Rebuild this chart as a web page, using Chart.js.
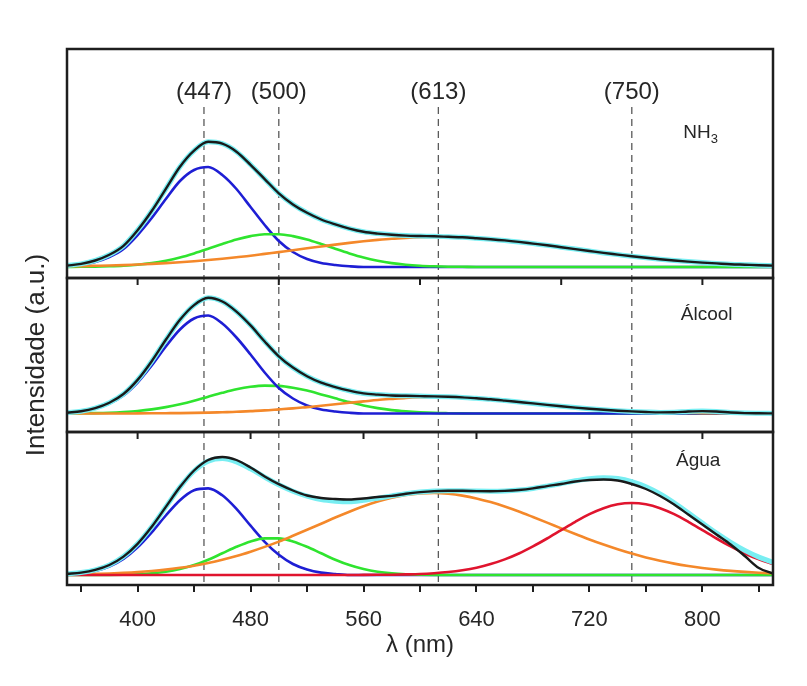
<!DOCTYPE html>
<html>
<head>
<meta charset="utf-8">
<title>Intensidade x comprimento de onda</title>
<script src="https://cdn.jsdelivr.net/npm/chart.js@4.4.0/dist/chart.umd.min.js"></script>
<style>
    body { margin: 0; background: #fff; }
    canvas { display: block; }
</style>
</head>
<body>
<canvas id="espectros" width="807" height="686"></canvas>
<script>
// comprimentos de onda (nm)
const wavelengths = [350, 360, 370, 380, 390, 400, 410, 420, 430, 440, 450, 460, 470, 480, 490, 500, 510, 520, 530, 540,
    550, 560, 570, 580, 590, 600, 610, 620, 630, 640, 650, 660, 670, 680, 690, 700, 710, 720, 730, 740,
    750, 760, 770, 780, 790, 800, 810, 820, 830, 840, 850];

// NH3
const nh3Total = [1.4, 3.1, 6.5, 12.2, 21.2, 36.8, 56, 78.2, 100.3, 116.4, 125.2, 123.3, 115.3, 102.2, 87.9, 73.7, 62.6, 54.2, 47.5, 42.6,
    38.4, 35.2, 33.4, 32.2, 31.4, 31, 30.7, 30.2, 29.7, 28.8, 27.8, 26.6, 25.1, 23.4, 21.7, 19.8, 17.9, 16.0, 14.1, 12.4,
    10.7, 9.2, 7.8, 6.5, 5.4, 4.4, 3.6, 2.8, 2.3, 1.8, 1.4];
const nh3Blue = [0.7, 2, 5, 10, 18, 32, 49, 68, 86, 97, 100, 92, 78, 60, 42, 26, 15, 8, 4, 2,
    0.7, 0, 0, 0, 0, 0, 0, 0, 0, 0, 0, 0, 0, 0, 0, 0, 0, 0, 0, 0,
    0, 0, 0, 0, 0, 0, 0, 0, 0, 0, 0];
const nh3Green = [0, 0.2, 0.3, 0.7, 1.3, 2.3, 3.9, 6.3, 9.5, 13.6, 18.2, 23, 27.5, 30.9, 32.8, 32.8, 30.9, 27.5, 23, 18.2,
    13.6, 9.5, 6.3, 3.9, 2.3, 1.3, 0.7, 0.3, 0.2, 0, 0, 0, 0, 0, 0, 0, 0, 0, 0, 0,
    0, 0, 0, 0, 0, 0, 0, 0, 0, 0, 0];
const nh3Orange = [0.7, 0.9, 1.2, 1.5, 1.9, 2.5, 3.1, 3.9, 4.8, 5.8, 7.0, 8.3, 9.8, 11.3, 13.1, 14.9, 16.7, 18.7, 20.5, 22.4,
    24.1, 25.7, 27.1, 28.3, 29.1, 29.7, 30, 29.9, 29.5, 28.8, 27.8, 26.6, 25.1, 23.4, 21.7, 19.8, 17.9, 16.0, 14.1, 12.4,
    10.7, 9.2, 7.8, 6.5, 5.4, 4.4, 3.6, 2.8, 2.3, 1.8, 1.4];

// Álcool
const alcTotal = [0.8, 2.2, 5.4, 10.8, 19.5, 33.6, 52.3, 73.7, 93.7, 108.4, 115.7, 112, 101.9, 88.1, 72, 57.2, 45.9, 37.3, 30.8, 26.4,
    22.8, 20.1, 18.9, 18, 17.7, 17.4, 17.1, 16.7, 16.1, 15.2, 14.2, 12.9, 11.5, 10.1, 8.6, 7.2, 5.9, 4.7, 3.7, 2.8,
    2.1, 1.5, 1.1, 1.2, 2.0, 2.4, 2.0, 1.0, 0.4, 0.2, 0.1];
const alcBlue = [0.7, 2, 5, 10, 18, 31, 48, 67, 84, 95, 98, 90, 76, 59, 41, 25.5, 15, 8, 4, 2,
    0.7, 0, 0, 0, 0, 0, 0, 0, 0, 0, 0, 0, 0, 0, 0, 0, 0, 0, 0, 0,
    0, 0, 0, 0, 0, 0, 0, 0, 0, 0, 0];
const alcGreen = [0.1, 0.2, 0.4, 0.8, 1.5, 2.5, 4.1, 6.4, 9.3, 12.8, 16.8, 20.7, 24.2, 26.7, 27.9, 27.6, 25.8, 22.9, 19.1, 15.2,
    11.4, 8.0, 5.4, 3.4, 2.1, 1.2, 0.6, 0.3, 0.1, 0, 0, 0, 0, 0, 0, 0, 0, 0, 0, 0,
    0, 0, 0, 0, 0, 0, 0, 0, 0, 0, 0];
const alcOrange = [0, 0, 0, 0, 0, 0.1, 0.2, 0.3, 0.4, 0.6, 0.9, 1.3, 1.7, 2.4, 3.1, 4.1, 5.1, 6.4, 7.7, 9.2,
    10.7, 12.1, 13.5, 14.6, 15.6, 16.2, 16.5, 16.4, 16.0, 15.2, 14.2, 12.9, 11.5, 10.1, 8.6, 7.2, 5.9, 4.7, 3.7, 2.8,
    2.1, 1.5, 1.1, 0.8, 0.5, 0.4, 0.2, 0.2, 0.1, 0.1, 0];

// Água
const aguaData = [1.2, 2.4, 5.1, 10, 18.4, 31.2, 48.2, 68.1, 87.9, 104.5, 115, 118, 115, 107.5, 98.5, 90.8, 84.5, 79.5, 77, 76,
    75.5, 76.5, 78, 79.1, 81.3, 82.9, 83.9, 84.2, 84.2, 83.9, 83.8, 84.1, 85, 86.6, 88.9, 91, 93.5, 95, 95.5, 94.5,
    91, 86, 79, 70.5, 60.5, 50.5, 40.5, 30.5, 19, 7, 1.5];
const aguaFit = [1.2, 2.4, 5.1, 10, 18.4, 31.2, 48.2, 68.1, 87.9, 104, 113.9, 116.6, 113.2, 106.2, 97.9, 90.2, 83.8, 78.9, 75.4, 73.8,
    73.2, 74.7, 76.8, 79.1, 81.3, 82.9, 83.9, 84.2, 84.2, 83.9, 83.8, 84.1, 85, 86.6, 88.9, 91.5, 94.2, 96.3, 97.2, 96.4,
    93.4, 88.3, 81.1, 72.2, 62.2, 51.9, 41.9, 32.7, 24.6, 17.9, 12.6];
const aguaBlue = [0.7, 1.7, 4, 8.4, 16, 27.6, 42.6, 59.5, 74.8, 84.8, 86.6, 79.7, 66.1, 49.3, 33.2, 20.2, 11, 5.5, 2.4, 1,
    0, 0, 0, 0, 0, 0, 0, 0, 0, 0, 0, 0, 0, 0, 0, 0, 0, 0, 0, 0,
    0, 0, 0, 0, 0, 0, 0, 0, 0, 0, 0];
const aguaGreen = [0, 0, 0, 0.1, 0.3, 0.7, 1.6, 3.2, 5.9, 9.9, 15.3, 21.7, 28.2, 33.6, 36.6, 36.6, 33.6, 28.2, 21.7, 15.3,
    9.9, 5.9, 3.2, 1.6, 0.7, 0.3, 0.1, 0, 0, 0, 0, 0, 0, 0, 0, 0, 0, 0, 0, 0,
    0, 0, 0, 0, 0, 0, 0, 0, 0, 0, 0];
const aguaOrange = [0.5, 0.7, 1.1, 1.5, 2.1, 2.9, 4.0, 5.4, 7.2, 9.3, 12.0, 15.2, 18.9, 23.3, 28.1, 33.4, 39.2, 45.2, 51.3, 57.5,
    63.3, 68.7, 73.4, 77.2, 80, 81.6, 82, 81.2, 79.4, 76.6, 72.9, 68.5, 63.5, 58, 52.4, 46.6, 41, 35.5, 30.4, 25.7,
    21.4, 17.6, 14.3, 11.4, 9.0, 7.0, 5.4, 4.1, 3.1, 2.3, 1.7];
const aguaRed = [0, 0, 0, 0, 0, 0, 0, 0, 0, 0, 0, 0, 0, 0, 0, 0, 0, 0, 0, 0,
    0, 0.1, 0.2, 0.3, 0.6, 1.0, 1.8, 3.0, 4.8, 7.3, 10.9, 15.6, 21.5, 28.6, 36.5, 44.9, 53.2, 60.8, 66.8, 70.7,
    72, 70.7, 66.8, 60.8, 53.2, 44.9, 36.5, 28.6, 21.5, 15.6, 10.9];

// picos marcados
const peakPositions = [447, 500, 613, 750];
const peakLabels = ["(447)", "(500)", "(613)", "(750)"];
const peakLabelLevel = 175;
const peakLineTop = 160;

// marcas internas entre os painéis
const innerTicksTop = [400, 500, 600, 700, 800];
const innerTicksBottom = [400, 480, 560, 640, 720, 800];

// rótulos dos painéis: [texto, nm, valor, eixo]
const panelLabels = [["NH", 799, 134, "y1"], ["Álcool", 803, 99, "y2"], ["Água", 797, 114, "y3"]];

const fontFamily = "'Liberation Sans', Arial, sans-serif";
const textColor = "#262626";
const colors = { data: "#1a1a1a", fit: "#78eef2", blue: "#1e1ed4", green: "#2fe42f", orange: "#f4882a", red: "#e0142e" };

const toPoints = values => values.map((v, i) => ({ x: wavelengths[i], y: v }));

const curve = (label, values, color, width, axis) => ({
    label: label,
    data: toPoints(values),
    borderColor: color,
    borderWidth: width,
    yAxisID: axis,
    pointRadius: 0,
    fill: false,
    cubicInterpolationMode: "monotone"
});

const datasets = [
    curve("NH3 dados", nh3Total, colors.data, 2.4, "y1"),
    curve("NH3 ajuste", nh3Total, colors.fit, 5, "y1"),
    curve("NH3 613", nh3Orange, colors.orange, 2.6, "y1"),
    curve("NH3 500", nh3Green, colors.green, 2.6, "y1"),
    curve("NH3 447", nh3Blue, colors.blue, 2.6, "y1"),
    curve("Álcool dados", alcTotal, colors.data, 2.4, "y2"),
    curve("Álcool ajuste", alcTotal, colors.fit, 5, "y2"),
    curve("Álcool 613", alcOrange, colors.orange, 2.6, "y2"),
    curve("Álcool 447", alcBlue, colors.blue, 2.6, "y2"),
    curve("Álcool 500", alcGreen, colors.green, 2.6, "y2"),
    curve("Água dados", aguaData, colors.data, 2.4, "y3"),
    curve("Água ajuste", aguaFit, colors.fit, 5, "y3"),
    curve("Água 750", aguaRed, colors.red, 2.6, "y3"),
    curve("Água 613", aguaOrange, colors.orange, 2.6, "y3"),
    curve("Água 500", aguaGreen, colors.green, 2.6, "y3"),
    curve("Água 447", aguaBlue, colors.blue, 2.6, "y3")
];

const panelAxis = (min, max, weight, title) => ({
    type: "linear",
    position: "left",
    stack: "paineis",
    stackWeight: weight,
    min: min,
    max: max,
    ticks: { display: false },
    grid: { display: false, drawTicks: false },
    border: { display: false },
    title: {
        display: !!title,
        text: title || "",
        color: textColor,
        font: { family: fontFamily, size: 26 },
        padding: { top: 21, bottom: 0 }
    },
    afterFit: scale => { scale.width = 67; }
});

const framePlugin = {
    id: "frame",
    beforeDatasetsDraw(chart) {
        const { ctx, chartArea, scales } = chart;
        const top = scales.y1.getPixelForValue(peakLineTop);
        ctx.save();
        ctx.strokeStyle = "#5a5a5a";
        ctx.lineWidth = 1.3;
        ctx.setLineDash([7, 5]);
        peakPositions.forEach(p => {
            const px = scales.x.getPixelForValue(p);
            ctx.beginPath();
            ctx.moveTo(px, top);
            ctx.lineTo(px, chartArea.bottom);
            ctx.stroke();
        });
        ctx.restore();
    },
    afterDatasetsDraw(chart) {
        const { ctx, chartArea, scales } = chart;
        const x = scales.x;
        ctx.save();
        ctx.strokeStyle = "#1e1e1e";
        ctx.lineWidth = 2.5;
        ["y1", "y2", "y3"].forEach(id => {
            const s = scales[id];
            ctx.strokeRect(chartArea.left, s.top, chartArea.right - chartArea.left, s.bottom - s.top);
        });

        // marcas voltadas para dentro nas divisas
        ctx.lineWidth = 2;
        const drawInner = (values, y) => {
            values.forEach(v => {
                const px = x.getPixelForValue(v);
                ctx.beginPath();
                ctx.moveTo(px, y);
                ctx.lineTo(px, y + 7);
                ctx.stroke();
            });
        };
        drawInner(innerTicksTop, scales.y1.bottom);
        drawInner(innerTicksBottom, scales.y2.bottom);

        // rótulos dos picos
        ctx.fillStyle = textColor;
        ctx.textAlign = "center";
        ctx.textBaseline = "middle";
        ctx.font = "24px " + fontFamily;
        peakPositions.forEach((p, i) => {
            ctx.fillText(peakLabels[i], x.getPixelForValue(p), scales.y1.getPixelForValue(peakLabelLevel));
        });

        // rótulos dos painéis
        panelLabels.forEach(([text, nm, val, axis]) => {
            const px = x.getPixelForValue(nm);
            const py = scales[axis].getPixelForValue(val);
            ctx.font = "19px " + fontFamily;
            if (text === "NH") {
                const w = ctx.measureText("NH").width;
                ctx.textAlign = "left";
                ctx.fillText("NH", px - w / 2 - 4, py);
                ctx.font = "13px " + fontFamily;
                ctx.fillText("3", px + w / 2 - 4, py + 6);
                ctx.textAlign = "center";
            } else {
                ctx.fillText(text, px, py);
            }
        });
        ctx.restore();
    }
};

new Chart(document.getElementById("espectros"), {
    type: "line",
    data: { datasets: datasets },
    options: {
        responsive: false,
        animation: false,
        layout: { padding: { top: 49, right: 34, left: 0, bottom: 0 } },
        plugins: {
            legend: { display: false },
            tooltip: { enabled: false }
        },
        scales: {
            x: {
                type: "linear",
                min: 350,
                max: 850,
                ticks: {
                    stepSize: 40,
                    includeBounds: false,
                    autoSkip: false,
                    maxRotation: 0,
                    padding: 15,
                    color: textColor,
                    font: { family: fontFamily, size: 22 },
                    callback: v => ((v - 400) % 80 === 0 ? String(v) : "")
                },
                grid: { drawOnChartArea: false, drawTicks: true, tickLength: 7, color: "#1e1e1e", lineWidth: 2 },
                border: { display: false },
                title: {
                    display: true,
                    text: "λ (nm)",
                    color: textColor,
                    font: { family: fontFamily, size: 24 },
                    padding: { top: 0, bottom: 26 }
                },
                afterFit: scale => { scale.height = 101; }
            },
            y3: panelAxis(-10, 143, 153),
            y2: panelAxis(-18.5, 135.5, 154, "Intensidade (a.u.)"),
            y1: panelAxis(-11, 218, 229)
        }
    },
    plugins: [framePlugin]
});
</script>
</body>
</html>
